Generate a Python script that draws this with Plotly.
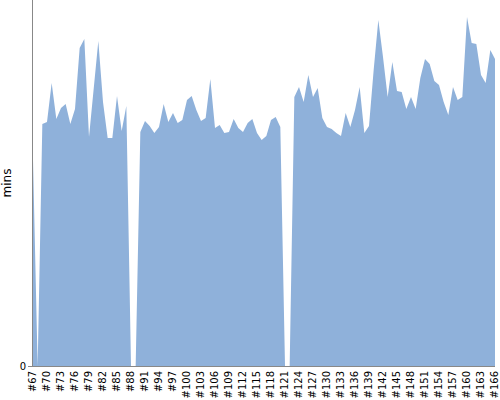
import plotly.graph_objects as go

builds = [f"#{n}" for n in range(67, 167)]

durations_mins = [
    20.6, 0.0, 24.2, 24.4, 28.3, 24.7, 25.8, 26.2, 24.2, 25.7,
    31.8, 32.7, 22.9, 27.6, 32.5, 26.4, 22.8, 22.8, 27.0, 23.5,
    26.0, 0.0, 0.0, 23.4, 24.5, 24.0, 23.3, 23.9, 26.2, 24.4,
    25.3, 24.3, 24.6, 26.6, 27.0, 25.6, 24.5, 24.8, 28.7, 23.8,
    24.1, 23.3, 23.4, 24.7, 23.8, 23.4, 24.3, 24.7, 23.3, 22.6,
    23.0, 24.6, 24.9, 23.9, 0.0, 0.0, 26.9, 27.9, 26.4, 29.1,
    26.9, 27.8, 24.8, 23.9, 23.7, 23.3, 23.0, 25.3, 23.9, 25.6,
    27.9, 23.3, 24.0, 29.6, 34.6, 30.9, 26.9, 30.4, 27.5, 27.4,
    25.7, 26.9, 25.7, 28.8, 30.7, 30.2, 28.5, 28.1, 26.4, 25.1,
    27.9, 26.6, 26.9, 34.9, 32.3, 32.2, 29.1, 28.3, 31.6, 30.7,
]

tick_labels = builds[::3]

fig = go.Figure()
fig.add_trace(go.Scatter(
    x=builds,
    y=durations_mins,
    mode="lines",
    fill="tozeroy",
    line=dict(width=0, color="rgb(143,177,218)"),
    fillcolor="rgb(143,177,218)",
    hoverinfo="x+y",
    showlegend=False,
))

fig.update_layout(
    width=500,
    height=400,
    margin=dict(l=33, r=5, t=0, b=34),
    paper_bgcolor="white",
    plot_bgcolor="white",
    font=dict(family="DejaVu Sans", size=10, color="black"),
    xaxis=dict(
        type="category",
        range=[0, 99],
        automargin=False,
        tickmode="array",
        tickvals=tick_labels,
        ticktext=tick_labels,
        tickangle=-90,
        showgrid=False,
        zeroline=False,
        showline=True,
        linecolor="#888888",
        linewidth=1,
        ticks="",
        tickfont=dict(family="DejaVu Sans", size=10, color="black"),
    ),
    yaxis=dict(
        range=[0, 36.6],
        automargin=False,
        tickmode="array",
        tickvals=[0],
        ticktext=["0"],
        showgrid=False,
        zeroline=False,
        showline=True,
        linecolor="#888888",
        linewidth=1,
        ticks="outside",
        ticklen=4,
        tickcolor="#888888",
        tickfont=dict(family="DejaVu Sans", size=10, color="black"),
        title=dict(text="mins", font=dict(family="DejaVu Sans", size=12, color="black"), standoff=6),
    ),
)

fig.write_html(
    "out.html",
    config={"displayModeBar": False},
    post_script="document.body.style.margin='0';document.body.style.overflow='hidden';",
)
